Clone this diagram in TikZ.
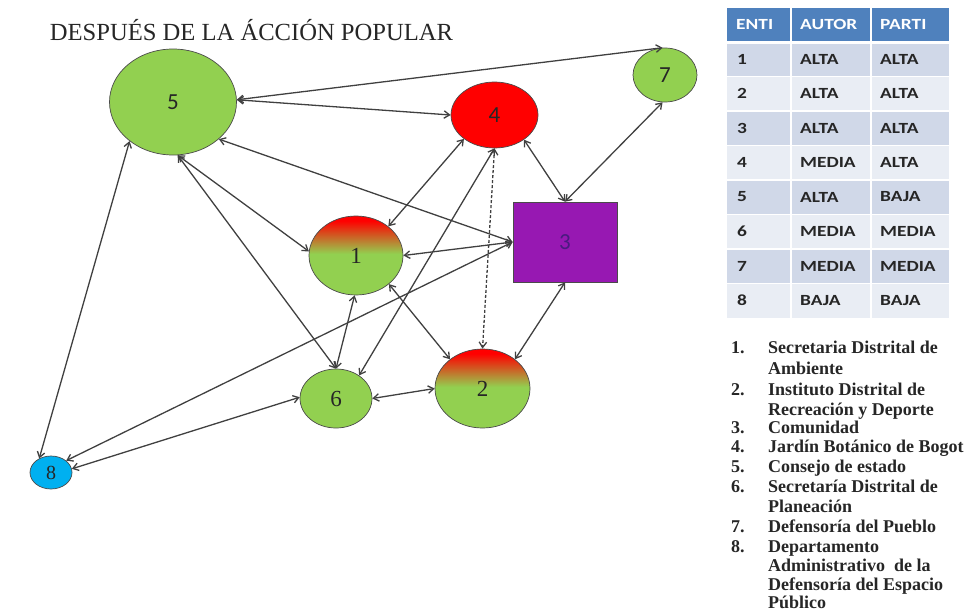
\documentclass[tikz,border=0pt]{standalone}
\usepackage{fontspec}
\setmainfont{Liberation Serif}
\newfontfamily\calfont{Carlito}
\newfontfamily\tabfont[FakeStretch=1.25]{Carlito}
\usetikzlibrary{shapes.geometric,arrows.meta}

\definecolor{leafgreen}{HTML}{92D050}
\definecolor{hotred}{HTML}{FF0000}
\definecolor{plum}{HTML}{9718B2}
\definecolor{plumtext}{HTML}{4A1A80}
\definecolor{skyblue}{HTML}{00B0F0}
\definecolor{edgegray}{HTML}{404040}
\definecolor{rimgray}{HTML}{4A4A4A}
\definecolor{headblue}{HTML}{4F81BD}
\definecolor{banddark}{HTML}{D0D8E8}
\definecolor{bandlight}{HTML}{E9EDF4}
\definecolor{inkgray}{HTML}{262626}

% red on top, fading to green by the middle of the shape
\pgfdeclareverticalshading{redtogreen}{100bp}{color(0bp)=(leafgreen); color(51bp)=(leafgreen); color(72bp)=(hotred); color(100bp)=(hotred)}

\tikzset{
  >={Straight Barb[length=5.5pt,width=7.5pt]},
  actor/.style={ellipse, draw=rimgray, line width=0.7pt, inner sep=0pt, text=inkgray},
  greenactor/.style={actor, fill=leafgreen},
  mixactor/.style={actor, shading=redtogreen},
  link/.style={draw=edgegray, line width=1.3pt, <->},
  dashlink/.style={link, dash pattern=on 3pt off 2pt},
  serifnum/.style={font=\fontsize{23}{24}\selectfont},
  sansnum/.style={font=\calfont\fontsize{23}{24}\selectfont},
  cellstyle/.style={anchor=west, inner sep=0pt, text=inkgray, font=\tabfont\bfseries\fontsize{15.5}{17}\selectfont},
  headstyle/.style={cellstyle, text=white},
  legnum/.style={anchor=base west, inner sep=0pt, text=inkgray, font=\bfseries\fontsize{18}{20}\selectfont},
  legtext/.style={legnum}
}

\begin{document}
\begin{tikzpicture}[x=1pt,y=-1pt]
\useasboundingbox (0,0) rectangle (972,613);

% title
\node[anchor=base, inner sep=0pt, text=inkgray, font=\fontsize{24.6}{27}\selectfont] (title) at (251.5,40.5) {DESPUÉS DE LA ÁCCIÓN POPULAR};

% actors
\node[greenactor, sansnum, minimum width=127pt, minimum height=106pt] (n5) at (173,102) {5};
\node[actor, fill=hotred, sansnum, minimum width=87pt, minimum height=66pt] (n4) at (494.5,115) {4};
\node[greenactor, sansnum, minimum width=64pt, minimum height=54pt] (n7) at (665,75) {7};
\node[rectangle, draw=rimgray, line width=0.7pt, fill=plum, text=plumtext, sansnum, minimum width=104pt, minimum height=80pt, inner sep=0pt] (n3) at (565,242) {3};
\node[mixactor, serifnum, minimum width=94pt, minimum height=79pt] (n1) at (356,255.5) {1};
\node[greenactor, serifnum, minimum width=72pt, minimum height=59pt] (n6) at (336,398.5) {6};
\node[mixactor, serifnum, minimum width=95pt, minimum height=79pt] (n2) at (482.5,388.5) {2};
\node[actor, fill=skyblue, font=\fontsize{20}{22}\selectfont, minimum width=42pt, minimum height=33pt] (n8) at (51,472.5) {8};

% relations
\draw[link] (n5.2) -- (n7.95);
\draw[link] (n5.2) -- (n4.180);
\draw[link] (n5.-39) -- (n3.west);
\draw[link] (n5.-85) -- (n1.175);
\draw[link] (n5.-85) -- (n6.north);
\draw[link] (n5.222) -- (n8.130);
\draw[link] (n4.218) -- (n1.42);
\draw[link] (n4.south) -- (n6.45);
\draw[link] (n4.-40) -- (n3.north);
\draw[dashlink] (n4.south) -- (n2.north);
\draw[link] (n7.-95) -- (n3.north);
\draw[link] (n3.west) -- (n1.east);
\draw[link] (n3.west) -- (n8.38);
\draw[link] (n3.south) -- (n2.42);
\draw[link] (n1.-92) -- (n6.north);
\draw[link] (n1.-41) -- (n2.138);
\draw[link] (n6.east) -- (n2.west);
\draw[link] (n6.178) -- (n8.10);

% rating table
\fill[headblue] (727,8) rectangle (949,42);
\foreach \r in {1,...,8}{
  \pgfmathsetmacro{\ytop}{42+34.5*(\r-1)}
  \pgfmathsetmacro{\ybot}{42+34.5*\r}
  \ifodd\r \def\band{banddark}\else\def\band{bandlight}\fi
  \fill[\band] (727,\ytop) rectangle (949,\ybot);
}
\foreach \xx in {791,871}{ \draw[white, line width=2pt] (\xx,8) -- (\xx,318); }
\foreach \r in {1,...,8}{ \draw[white, line width=1.5pt] (727,42+34.5*\r-34.5) -- (949,42+34.5*\r-34.5); }
\draw[white, line width=3pt] (727,42) -- (949,42);

\node[headstyle] (h1) at (736,24) {ENTI};
\node[headstyle] (h2) at (800,24) {AUTOR};
\node[headstyle] (h3) at (880,24) {PARTI};
\foreach \r/\a/\p in {1/ALTA/ALTA, 2/ALTA/ALTA, 3/ALTA/ALTA, 4/MEDIA/ALTA, 5/ALTA/BAJA, 6/MEDIA/MEDIA, 7/MEDIA/MEDIA, 8/BAJA/BAJA}{
  \node[cellstyle] (e\r) at (737,42+34.5*\r-17.5) {\r};
  \node[cellstyle] (a\r) at (800,42+34.5*\r-17.5) {\a};
  \node[cellstyle] (p\r) at (880,42+34.5*\r-17.5) {\p};
}

% legend
\foreach \k/\yb in {1/353, 2/395, 3/433, 4/452, 5/472, 6/492, 7/532, 8/552}{
  \node[legnum] (num\k) at (731,\yb) {\k.};
}
\node[legtext] (l1) at (768,353) {Secretaria Distrital de};
\node[legtext] (l2) at (768,374) {Ambiente};
\node[legtext] (l3) at (768,395) {Instituto Distrital de};
\node[legtext] (l4) at (768,415) {Recreación y Deporte};
\node[legtext] (l5) at (768,433) {Comunidad};
\node[legtext] (l6) at (768,452) {Jardín Botánico de Bogot};
\node[legtext] (l7) at (768,472) {Consejo de estado};
\node[legtext] (l8) at (768,492) {Secretaría Distrital de};
\node[legtext] (l9) at (768,512) {Planeación};
\node[legtext] (l10) at (768,532) {Defensoría del Pueblo};
\node[legtext] (l11) at (768,552) {Departamento};
\node[legtext] (l12) at (768,571) {Administrativo\ \ de la};
\node[legtext] (l13) at (768,590) {Defensoría del Espacio};
\node[legtext] (l14) at (768,608) {Público};
\end{tikzpicture}
\end{document}
